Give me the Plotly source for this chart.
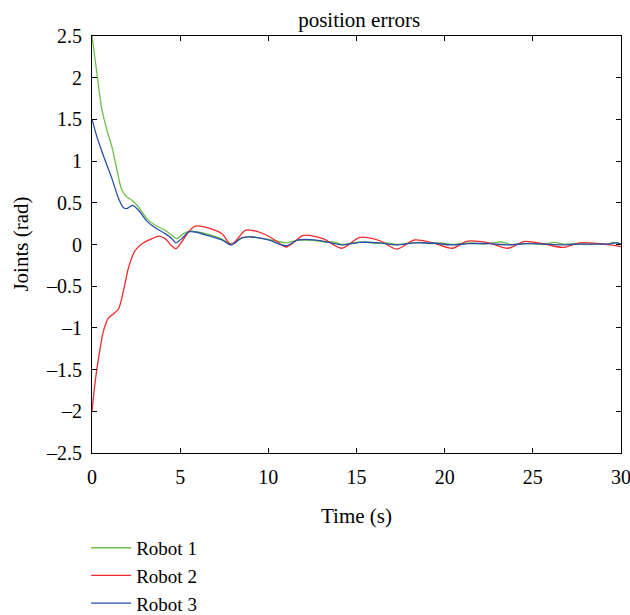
import plotly.graph_objects as go

# Robot 1 (green)
t1 = [0, 0.28, 0.57, 0.85, 1.13, 1.42, 1.7, 1.98, 2.26, 2.64, 3.11, 3.58, 4.15, 4.53, 4.81,
      5.19, 5.55, 6.0, 6.6, 7.3, 7.9, 8.5, 9.1, 10.0, 10.5, 11.0, 11.6, 12.5, 13.2, 13.7,
      14.2, 14.8, 15.5, 16.1, 16.7, 17.3, 17.9, 18.6, 19.2, 19.8, 20.4, 21.0, 21.6, 22.2,
      22.7, 23.2, 23.7, 24.4, 25.0, 25.6, 26.2, 26.8, 27.4, 28.0, 28.6, 29.2, 29.6, 30]
v1 = [2.5, 2.05, 1.61, 1.37, 1.17, 0.89, 0.65, 0.57, 0.53, 0.45, 0.31, 0.23, 0.17, 0.11, 0.07,
      0.13, 0.16, 0.15, 0.12, 0.07, 0.01, 0.08, 0.09, 0.06, 0.04, 0.02, 0.05, 0.05, 0.03, 0.03,
      0.0, 0.02, 0.03, 0.015, 0.02, 0.0, 0.015, 0.025, 0.01, 0.02, 0.0, 0.015, 0.02, 0.005,
      0.02, 0.03, 0.0, 0.005, 0.015, 0.0, 0.025, 0.005, 0.01, 0.0, 0.01, 0.0, 0.025, 0.01]

# Robot 2 (red)
t2 = [0, 0.19, 0.38, 0.66, 0.94, 1.23, 1.51, 1.79, 2.08, 2.45, 2.92, 3.4, 3.77, 4.15, 4.49,
      4.75, 5.09, 5.47, 5.86, 6.8, 7.37, 7.9, 8.69, 9.07, 9.82, 10.4, 11.0, 12.0, 13.1, 14.16,
      15.2, 16.33, 17.27, 18.3, 19.34, 20.44, 21.3, 22.5, 23.59, 24.5, 25.6, 26.7, 27.65, 28.8, 30]
v2 = [-2, -1.63, -1.35, -1.03, -0.88, -0.83, -0.77, -0.55, -0.27, -0.07, 0.02, 0.07, 0.1, 0.07, -0.01,
      -0.05, 0.03, 0.15, 0.22, 0.185, 0.13, 0.0, 0.17, 0.17, 0.12, 0.05, -0.03, 0.11, 0.07, -0.045,
      0.085, 0.045, -0.055, 0.055, 0.02, -0.045, 0.04, 0.02, -0.045, 0.035, 0.01, -0.035, 0.02, 0.01, -0.025]

# Robot 3 (blue)
t3 = [0, 0.28, 0.57, 0.85, 1.13, 1.51, 1.79, 1.98, 2.3, 2.64, 3.11, 3.58, 4.15, 4.53, 4.75,
      5.09, 5.48, 5.86, 6.61, 7.37, 7.9, 8.5, 9.07, 10.0, 11.0, 11.7, 12.6, 13.2, 14.16, 15.2,
      16.3, 17.27, 18.3, 19.4, 20.44, 21.4, 22.5, 23.59, 24.6, 25.6, 26.7, 27.7, 28.8, 29.3, 29.7, 30]
v3 = [1.5, 1.29, 1.11, 0.95, 0.79, 0.55, 0.44, 0.43, 0.47, 0.41, 0.28, 0.2, 0.13, 0.07, 0.02,
      0.07, 0.15, 0.15, 0.105, 0.055, -0.005, 0.08, 0.09, 0.055, -0.015, 0.055, 0.055, 0.035, -0.005, 0.025,
      0.02, -0.005, 0.02, 0.015, -0.005, 0.01, 0.01, -0.005, 0.01, 0.005, -0.005, 0.005, 0.005, 0.005, 0.02, 0.005]

names = ["Robot 1", "Robot 2", "Robot 3"]
colors = ["#6cbf4a", "#ee2a2a", "#2a4ea6"]

x_ticks = [0, 5, 10, 15, 20, 25, 30]
y_ticks = [2.5, 2, 1.5, 1, 0.5, 0, -0.5, -1, -1.5, -2, -2.5]
y_ticktext = ["2.5", "2", "1.5", "1", "0.5", "0", "–0.5", "–1", "–1.5", "–2", "–2.5"]

FONT = "Liberation Serif"

fig = go.Figure()
for t, v, n, c in zip([t1, t2, t3], [v1, v2, v3], names, colors):
    fig.add_trace(go.Scatter(x=t, y=v, mode="lines", name=n,
                             line=dict(color=c, width=1.3, shape="spline", smoothing=0.8)))

axis_common = dict(showline=True, linecolor="black", linewidth=1, mirror="ticks",
                   ticks="inside", ticklen=5, tickcolor="black", showgrid=False,
                   zeroline=False,
                   tickfont=dict(family=FONT, size=20, color="black"))

fig.update_layout(
    width=630, height=615,
    margin=dict(l=92, r=9, t=36, b=162),
    paper_bgcolor="white", plot_bgcolor="white",
    font=dict(family=FONT, size=20, color="black"),
    title=dict(text="position errors", x=0.505, xref="paper", xanchor="center",
               y=1, yref="paper", yanchor="bottom", pad=dict(b=9),
               font=dict(family=FONT, size=21, color="black")),
    xaxis=dict(range=[0, 30], tickvals=x_ticks, ticklabelstandoff=6,
               automargin=False, ticklabeloverflow="allow",
               **axis_common),
    yaxis=dict(range=[-2.5, 2.5], tickvals=y_ticks, ticktext=y_ticktext,
               ticklabelstandoff=5, **axis_common),
    annotations=[
        dict(text="Joints (rad)", textangle=-90, xref="paper", yref="paper",
             x=-0.136, y=0.5, xanchor="center", yanchor="middle", showarrow=False,
             font=dict(family=FONT, size=21, color="black")),
        dict(text="Time (s)", xref="paper", yref="paper",
             x=0.5, y=-0.151, xanchor="center", yanchor="middle", showarrow=False,
             font=dict(family=FONT, size=21, color="black")),
    ],
    showlegend=True,
    legend=dict(x=-0.011, xref="paper", xanchor="left",
                y=0.14, yref="container", yanchor="top", itemwidth=40,
                font=dict(family=FONT, size=19, color="black"),
                bgcolor="rgba(0,0,0,0)"),
)

fig.write_html("out.html", config={"displayModeBar": False},
               post_script="document.body.style.margin='0px';")
